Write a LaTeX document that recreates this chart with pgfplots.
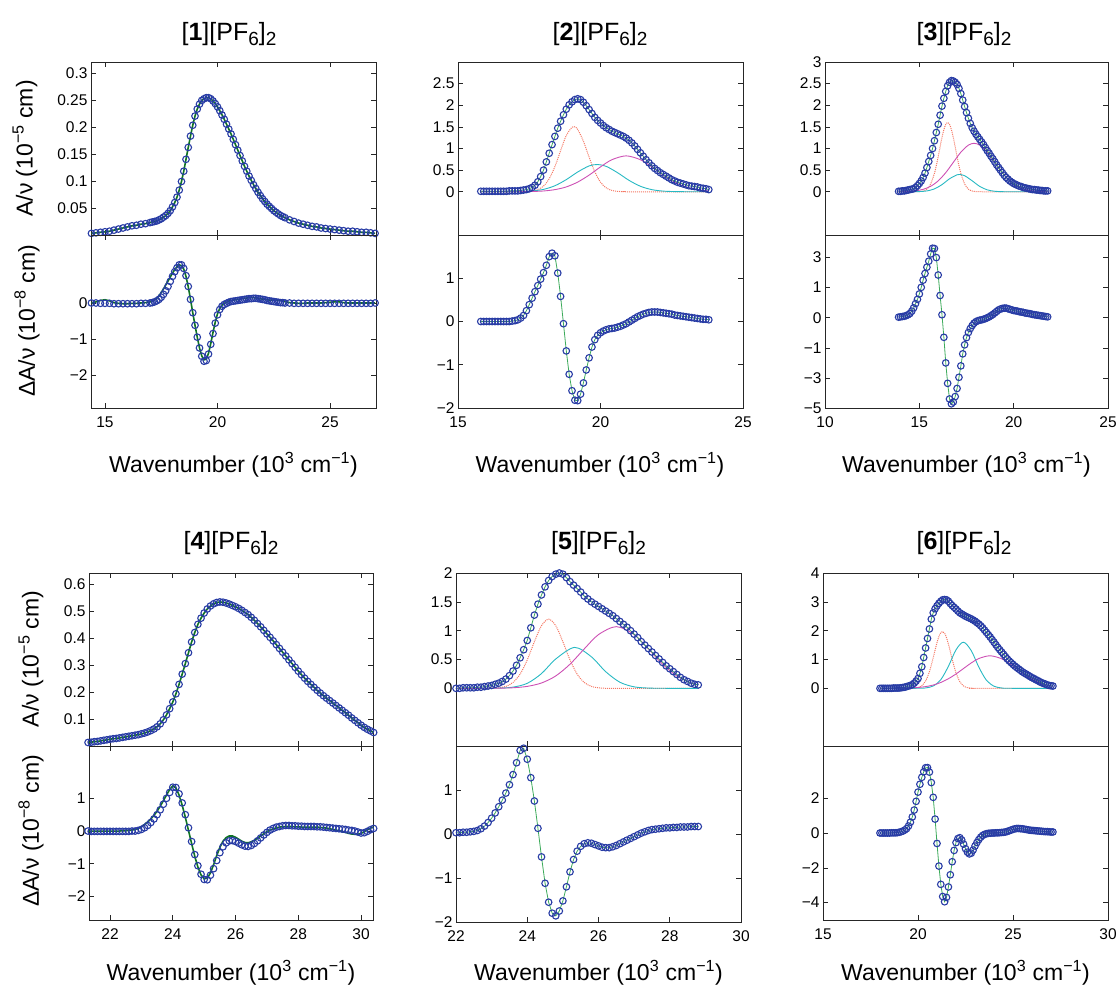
\documentclass[border=0pt]{standalone}
\usepackage{pgfplots}
\usepackage{pgfplotstable}
\usepackage{fontspec}
\setmainfont{Liberation Sans}
\pgfplotsset{compat=1.18}

\definecolor{datc}{RGB}{40,60,165}
\definecolor{fitdk}{RGB}{15,115,35}
\definecolor{fitlt}{RGB}{60,170,90}
\definecolor{redc}{RGB}{245,120,100}
\definecolor{cyac}{RGB}{40,185,195}
\definecolor{magc}{RGB}{205,80,180}

\pgfplotsset{
  pan/.style={scale only axis, anchor=north west, width=285pt, height=173pt,
    clip=false, tick align=inside, major tick length=5pt,
    axis line style={line width=0.7pt, black!85},
    every tick/.style={black!85, line width=0.6pt},
    tick label style={font=\fontsize{15.5}{16}\selectfont},
    xticklabel style={yshift=-5pt}},
  notx/.style={xticklabel={\mbox{}}},
  dat/.style={only marks, mark=o, mark size=3.3pt, datc, mark options={line width=1.1pt}},
  fitd/.style={no marks, fitdk, line width=1.6pt},
  fitl/.style={no marks, fitlt, line width=0.8pt},
  cr/.style={no marks, redc, densely dotted, line width=1pt, smooth},
  cc/.style={no marks, cyac, line width=0.9pt, smooth},
  cm/.style={no marks, magc, line width=0.9pt, smooth},
}

% [1][PF6]2 : x, A/nu, dA/nu, fit of dA/nu
\pgfplotstableread{
x a d f
14.4 0.003 0.00 0.00
14.6 0.004 0.00 0.03
14.8 0.005 -0.01 0.07
15.0 0.006 -0.01 0.09
15.2 0.007 -0.01 0.06
15.4 0.009 -0.02 0.01
15.6 0.011 -0.02 -0.01
15.8 0.013 -0.02 -0.02
16.0 0.015 -0.02 -0.02
16.2 0.017 -0.02 -0.01
16.4 0.018 -0.02 -0.01
16.6 0.020 -0.01 0.00
16.8 0.021 -0.01 0.01
17.0 0.023 0.00 0.03
17.1 0.024 0.01 0.05
17.2 0.025 0.03 0.08
17.3 0.026 0.06 0.13
17.4 0.028 0.10 0.20
17.5 0.030 0.16 0.29
17.6 0.033 0.24 0.39
17.7 0.036 0.34 0.50
17.8 0.040 0.46 0.61
17.9 0.045 0.60 0.72
18.0 0.052 0.74 0.83
18.1 0.060 0.87 0.93
18.2 0.070 0.98 1.01
18.3 0.083 1.06 1.06
18.4 0.099 1.06 1.04
18.5 0.118 0.96 0.94
18.6 0.140 0.76 0.74
18.7 0.162 0.46 0.45
18.8 0.183 0.10 0.10
18.9 0.203 -0.27 -0.27
19.0 0.220 -0.62 -0.62
19.1 0.233 -0.95 -0.95
19.2 0.242 -1.25 -1.25
19.3 0.249 -1.48 -1.47
19.4 0.252 -1.62 -1.58
19.5 0.254 -1.60 -1.56
19.6 0.254 -1.42 -1.40
19.7 0.252 -1.15 -1.13
19.8 0.248 -0.85 -0.82
19.9 0.243 -0.56 -0.53
20.0 0.237 -0.33 -0.30
20.1 0.230 -0.18 -0.15
20.2 0.222 -0.09 -0.06
20.3 0.214 -0.04 -0.01
20.4 0.205 -0.01 0.02
20.5 0.196 0.02 0.05
20.6 0.187 0.04 0.07
20.7 0.177 0.05 0.08
20.8 0.167 0.06 0.09
20.9 0.157 0.07 0.10
21.0 0.147 0.08 0.11
21.1 0.137 0.09 0.12
21.2 0.127 0.10 0.13
21.3 0.118 0.11 0.14
21.4 0.109 0.12 0.15
21.5 0.101 0.12 0.15
21.6 0.093 0.13 0.15
21.7 0.086 0.13 0.14
21.8 0.079 0.12 0.13
21.9 0.073 0.11 0.12
22.0 0.067 0.10 0.11
22.1 0.062 0.09 0.10
22.2 0.057 0.07 0.09
22.3 0.053 0.06 0.08
22.4 0.049 0.05 0.08
22.5 0.045 0.04 0.08
22.6 0.042 0.03 0.08
22.7 0.039 0.02 0.08
22.8 0.036 0.01 0.08
22.9 0.034 0.01 0.06
23.0 0.032 0.00 0.04
23.2 0.028 0.00 0.01
23.4 0.025 -0.01 0.00
23.6 0.022 -0.01 -0.01
23.8 0.020 -0.01 -0.01
24.0 0.018 -0.01 0.00
24.2 0.016 -0.01 0.00
24.4 0.015 -0.01 0.00
24.6 0.013 -0.01 0.00
24.8 0.012 -0.01 0.01
25.0 0.011 -0.01 0.02
25.2 0.010 -0.01 0.03
25.4 0.009 -0.01 0.03
25.6 0.008 -0.01 0.01
25.8 0.007 -0.01 0.00
26.0 0.007 -0.01 0.00
26.2 0.006 -0.01 0.00
26.4 0.005 -0.01 0.00
26.6 0.005 -0.01 0.00
26.8 0.004 -0.01 0.00
27.0 0.003 0.00 0.00
}\tOne

% [2][PF6]2
\pgfplotstableread{
x a d
15.8 0.01 0.00
15.9 0.01 0.00
16.0 0.01 0.00
16.1 0.01 0.00
16.2 0.01 0.00
16.3 0.01 0.00
16.4 0.01 0.00
16.5 0.01 0.00
16.6 0.01 0.00
16.7 0.01 0.00
16.8 0.02 0.00
16.9 0.02 0.01
17.0 0.02 0.02
17.1 0.02 0.04
17.2 0.03 0.08
17.3 0.04 0.14
17.4 0.05 0.25
17.5 0.07 0.39
17.6 0.10 0.54
17.7 0.15 0.69
17.8 0.23 0.83
17.9 0.35 0.98
18.0 0.50 1.13
18.1 0.69 1.30
18.2 0.89 1.50
18.3 1.09 1.58
18.4 1.28 1.52
18.5 1.47 1.12
18.6 1.63 0.58
18.7 1.78 -0.05
18.8 1.91 -0.68
18.9 2.01 -1.22
19.0 2.08 -1.60
19.1 2.13 -1.82
19.2 2.15 -1.83
19.3 2.13 -1.68
19.4 2.07 -1.42
19.5 1.99 -1.12
19.6 1.90 -0.84
19.7 1.81 -0.59
19.8 1.72 -0.42
19.9 1.65 -0.32
20.0 1.59 -0.26
20.1 1.53 -0.22
20.2 1.48 -0.19
20.3 1.44 -0.17
20.4 1.40 -0.16
20.5 1.37 -0.15
20.6 1.34 -0.13
20.7 1.31 -0.11
20.8 1.28 -0.08
20.9 1.24 -0.05
21.0 1.19 -0.01
21.1 1.13 0.03
21.2 1.06 0.07
21.3 0.98 0.11
21.4 0.90 0.14
21.5 0.82 0.17
21.6 0.74 0.19
21.7 0.67 0.21
21.8 0.60 0.22
21.9 0.54 0.22
22.0 0.49 0.22
22.1 0.44 0.21
22.2 0.40 0.20
22.3 0.36 0.19
22.4 0.32 0.18
22.5 0.28 0.17
22.6 0.25 0.15
22.7 0.22 0.14
22.8 0.20 0.13
22.9 0.18 0.12
23.0 0.16 0.11
23.1 0.14 0.10
23.2 0.13 0.09
23.3 0.12 0.08
23.4 0.11 0.07
23.5 0.09 0.06
23.6 0.08 0.05
23.7 0.07 0.05
23.8 0.05 0.04
}\tTwo

% [3][PF6]2 (d in tick-position units: 2,1,0,-1,-2,-3 carry labels 3,1,0,-1,-3,-5)
\pgfplotstableread{
x a d
13.9 0.01 0.02
14.0 0.01 0.03
14.1 0.02 0.04
14.2 0.02 0.05
14.3 0.03 0.07
14.4 0.04 0.10
14.5 0.05 0.14
14.6 0.06 0.22
14.7 0.07 0.33
14.8 0.10 0.47
14.9 0.14 0.61
15.0 0.19 0.79
15.1 0.25 1.01
15.2 0.33 1.25
15.3 0.43 1.47
15.4 0.56 1.68
15.5 0.70 1.88
15.6 0.84 2.12
15.7 1.00 2.31
15.8 1.18 2.30
15.9 1.37 2.00
16.0 1.56 1.42
16.1 1.77 0.74
16.2 1.98 0.10
16.3 2.16 -0.65
16.4 2.32 -1.50
16.5 2.45 -2.18
16.6 2.53 -2.70
16.7 2.57 -2.86
16.8 2.56 -2.80
16.9 2.53 -2.62
17.0 2.48 -2.35
17.1 2.39 -1.98
17.2 2.27 -1.60
17.3 2.12 -1.20
17.4 1.97 -0.90
17.5 1.83 -0.66
17.6 1.70 -0.49
17.7 1.58 -0.36
17.8 1.48 -0.26
17.9 1.40 -0.18
18.0 1.33 -0.13
18.1 1.27 -0.10
18.2 1.21 -0.08
18.3 1.15 -0.07
18.4 1.09 -0.05
18.5 1.02 -0.03
18.6 0.95 0.00
18.7 0.89 0.03
18.8 0.82 0.07
18.9 0.76 0.11
19.0 0.69 0.16
19.1 0.62 0.21
19.2 0.56 0.26
19.3 0.50 0.29
19.4 0.44 0.31
19.5 0.38 0.32
19.6 0.33 0.32
19.7 0.29 0.30
19.8 0.25 0.28
19.9 0.22 0.26
20.0 0.19 0.24
20.1 0.17 0.23
20.2 0.15 0.22
20.3 0.13 0.20
20.4 0.12 0.19
20.5 0.10 0.18
20.6 0.09 0.16
20.7 0.08 0.15
20.8 0.07 0.14
20.9 0.06 0.13
21.0 0.05 0.11
21.1 0.05 0.10
21.2 0.04 0.09
21.3 0.04 0.08
21.4 0.03 0.07
21.5 0.03 0.06
21.6 0.02 0.05
21.7 0.02 0.04
21.8 0.02 0.03
}\tThree

% [4][PF6]2 : x, A/nu, dA/nu, fit of dA/nu
\pgfplotstableread{
x a d f
21.3 0.013 0.00 0.00
21.4 0.014 -0.01 0.00
21.5 0.016 -0.01 0.00
21.6 0.017 -0.01 0.00
21.7 0.019 -0.01 0.00
21.8 0.021 -0.01 0.00
21.9 0.023 -0.01 0.00
22.0 0.025 -0.01 0.00
22.1 0.027 -0.01 0.00
22.2 0.028 -0.01 0.00
22.3 0.030 -0.01 0.00
22.4 0.032 -0.01 0.01
22.5 0.034 -0.01 0.01
22.6 0.036 -0.01 0.02
22.7 0.038 0.00 0.03
22.8 0.040 0.00 0.05
22.9 0.042 0.02 0.08
23.0 0.045 0.05 0.13
23.1 0.048 0.10 0.20
23.2 0.052 0.17 0.28
23.3 0.057 0.26 0.37
23.4 0.063 0.37 0.48
23.5 0.071 0.50 0.61
23.6 0.082 0.65 0.76
23.7 0.097 0.82 0.93
23.8 0.115 1.00 1.10
23.9 0.138 1.18 1.27
24.0 0.163 1.34 1.38
24.1 0.193 1.33 1.32
24.2 0.228 1.14 1.10
24.3 0.266 0.86 0.79
24.4 0.305 0.50 0.42
24.5 0.345 0.10 0.02
24.6 0.385 -0.32 -0.38
24.7 0.420 -0.72 -0.77
24.8 0.450 -1.06 -1.10
24.9 0.473 -1.32 -1.34
25.0 0.492 -1.48 -1.46
25.1 0.507 -1.49 -1.44
25.2 0.518 -1.35 -1.28
25.3 0.526 -1.15 -1.03
25.4 0.531 -0.90 -0.75
25.5 0.533 -0.66 -0.50
25.6 0.532 -0.48 -0.31
25.7 0.529 -0.36 -0.20
25.8 0.525 -0.30 -0.15
25.9 0.520 -0.29 -0.15
26.0 0.515 -0.32 -0.19
26.1 0.509 -0.37 -0.25
26.2 0.502 -0.42 -0.31
26.3 0.494 -0.46 -0.35
26.4 0.486 -0.47 -0.36
26.5 0.476 -0.44 -0.33
26.6 0.465 -0.38 -0.28
26.7 0.453 -0.30 -0.22
26.8 0.441 -0.21 -0.15
26.9 0.428 -0.12 -0.08
27.0 0.415 -0.04 -0.02
27.1 0.402 0.03 0.03
27.2 0.389 0.08 0.07
27.3 0.375 0.12 0.10
27.4 0.361 0.14 0.12
27.5 0.347 0.16 0.13
27.6 0.333 0.17 0.14
27.7 0.319 0.17 0.14
27.8 0.305 0.16 0.14
27.9 0.291 0.16 0.13
28.0 0.277 0.15 0.13
28.1 0.264 0.15 0.12
28.2 0.251 0.14 0.12
28.3 0.239 0.14 0.12
28.4 0.228 0.14 0.12
28.5 0.217 0.14 0.12
28.6 0.206 0.13 0.12
28.7 0.196 0.13 0.11
28.8 0.186 0.12 0.10
28.9 0.177 0.11 0.09
29.0 0.168 0.10 0.07
29.1 0.159 0.09 0.05
29.2 0.150 0.08 0.03
29.3 0.141 0.07 0.01
29.4 0.132 0.06 -0.02
29.5 0.123 0.05 -0.04
29.6 0.114 0.03 -0.07
29.7 0.104 0.02 -0.09
29.8 0.095 0.00 -0.10
29.9 0.086 -0.03 -0.10
30.0 0.077 -0.06 -0.07
30.1 0.069 -0.05 -0.02
30.2 0.062 -0.01 0.04
30.3 0.056 0.04 0.09
30.4 0.050 0.08 0.12
}\tFour

% [5][PF6]2
\pgfplotstableread{
x a d
22.0 0.00 0.03
22.1 0.00 0.03
22.2 0.01 0.04
22.3 0.01 0.04
22.4 0.01 0.05
22.5 0.01 0.06
22.6 0.02 0.08
22.7 0.02 0.12
22.8 0.03 0.18
22.9 0.04 0.26
23.0 0.05 0.36
23.1 0.07 0.48
23.2 0.09 0.62
23.3 0.12 0.77
23.4 0.16 0.93
23.5 0.22 1.12
23.6 0.30 1.35
23.7 0.40 1.62
23.8 0.53 1.90
23.9 0.67 1.95
24.0 0.83 1.70
24.1 1.05 1.28
24.2 1.27 0.75
24.3 1.46 0.13
24.4 1.62 -0.52
24.5 1.76 -1.12
24.6 1.87 -1.55
24.7 1.94 -1.80
24.8 1.98 -1.86
24.9 2.00 -1.75
25.0 1.98 -1.52
25.1 1.92 -1.20
25.2 1.85 -0.86
25.3 1.79 -0.58
25.4 1.73 -0.39
25.5 1.67 -0.28
25.6 1.60 -0.22
25.7 1.55 -0.20
25.8 1.50 -0.21
25.9 1.46 -0.24
26.0 1.42 -0.27
26.1 1.38 -0.30
26.2 1.34 -0.31
26.3 1.30 -0.31
26.4 1.26 -0.29
26.5 1.21 -0.26
26.6 1.16 -0.22
26.7 1.11 -0.18
26.8 1.06 -0.14
26.9 1.00 -0.10
27.0 0.94 -0.06
27.1 0.88 -0.02
27.2 0.81 0.02
27.3 0.75 0.05
27.4 0.69 0.08
27.5 0.63 0.10
27.6 0.57 0.11
27.7 0.51 0.12
27.8 0.45 0.13
27.9 0.39 0.14
28.0 0.34 0.14
28.1 0.29 0.15
28.2 0.24 0.15
28.3 0.19 0.16
28.4 0.15 0.16
28.5 0.12 0.16
28.6 0.09 0.17
28.7 0.07 0.17
28.8 0.06 0.17
}\tFive

% [6][PF6]2
\pgfplotstableread{
x a d
18.0 0.00 0.00
18.1 0.00 0.00
18.2 0.00 0.00
18.3 0.00 0.00
18.4 0.00 0.00
18.5 0.00 0.00
18.6 0.00 0.01
18.7 0.01 0.01
18.8 0.01 0.01
18.9 0.01 0.02
19.0 0.01 0.04
19.1 0.02 0.07
19.2 0.03 0.11
19.3 0.04 0.17
19.4 0.06 0.25
19.5 0.08 0.40
19.6 0.10 0.62
19.7 0.13 0.92
19.8 0.18 1.32
19.9 0.25 1.82
20.0 0.34 2.35
20.1 0.52 2.80
20.2 0.75 3.20
20.3 1.07 3.52
20.4 1.40 3.75
20.5 1.73 3.76
20.6 2.06 3.50
20.7 2.40 2.90
20.8 2.62 2.05
20.9 2.76 0.80
21.0 2.86 -0.60
21.1 2.95 -1.90
21.2 3.02 -2.95
21.3 3.07 -3.65
21.4 3.08 -3.95
21.5 3.07 -3.70
21.6 3.02 -3.10
21.7 2.94 -2.40
21.8 2.87 -1.65
21.9 2.81 -1.00
22.0 2.75 -0.55
22.1 2.68 -0.32
22.2 2.62 -0.27
22.3 2.58 -0.40
22.4 2.54 -0.64
22.5 2.50 -0.90
22.6 2.47 -1.10
22.7 2.44 -1.20
22.8 2.41 -1.16
22.9 2.37 -0.98
23.0 2.33 -0.75
23.1 2.28 -0.55
23.2 2.23 -0.38
23.3 2.17 -0.24
23.4 2.10 -0.14
23.5 2.02 -0.08
23.6 1.94 -0.04
23.7 1.86 -0.02
23.8 1.78 -0.01
23.9 1.69 0.00
24.0 1.60 0.00
24.1 1.51 0.01
24.2 1.42 0.01
24.3 1.34 0.02
24.4 1.26 0.03
24.5 1.18 0.04
24.6 1.10 0.06
24.7 1.02 0.09
24.8 0.95 0.13
24.9 0.89 0.17
25.0 0.83 0.21
25.1 0.77 0.24
25.2 0.72 0.26
25.3 0.67 0.26
25.4 0.62 0.25
25.5 0.57 0.24
25.6 0.53 0.22
25.7 0.49 0.20
25.8 0.45 0.18
25.9 0.41 0.16
26.0 0.37 0.15
26.1 0.34 0.14
26.2 0.30 0.13
26.3 0.27 0.12
26.4 0.23 0.11
26.5 0.20 0.10
26.6 0.17 0.09
26.7 0.15 0.08
26.8 0.12 0.08
26.9 0.10 0.07
27.0 0.09 0.06
27.1 0.08 0.06
}\tSix

\newcommand{\sub}[1]{\raisebox{-0.22em}{\fontsize{19}{19}\selectfont #1}}
\newcommand{\ttl}[1]{[\textbf{#1}][PF\sub{6}]\sub{2}}
\newcommand{\wn}{Wavenumber (10\textsuperscript{3} cm\textsuperscript{−1})}

\begin{document}
\begin{tikzpicture}
\useasboundingbox (0,0) rectangle (1119pt,-986pt);

\begin{scope}[every node/.style={font=\fontsize{25}{26}\selectfont}]
\node at (229pt,-34pt) {\ttl{1}};
\node at (600pt,-34pt) {\ttl{2}};
\node at (964pt,-34pt) {\ttl{3}};
\node at (231pt,-543pt) {\ttl{4}};
\node at (598.5pt,-543pt) {\ttl{5}};
\node at (964pt,-543pt) {\ttl{6}};
\end{scope}
\begin{scope}[every node/.style={font=\fontsize{23}{24}\selectfont}]
\node at (233.5pt,-465pt) {\wn};
\node at (600pt,-465pt) {\wn};
\node at (966.5pt,-465pt) {\wn};
\node at (231pt,-973pt) {\wn};
\node at (598.5pt,-973pt) {\wn};
\node at (965.5pt,-973pt) {\wn};
\node[rotate=90] at (25pt,-148.5pt) {A/ν (10\textsuperscript{−5} cm)};
\node[rotate=90] at (27pt,-321pt) {ΔA/ν (10\textsuperscript{−8} cm)};
\node[rotate=90] at (31pt,-659pt) {A/ν (10\textsuperscript{−5} cm)};
\node[rotate=90] at (31pt,-831pt) {ΔA/ν (10\textsuperscript{−8} cm)};
\end{scope}

% ---- panel 1
\begin{axis}[pan, notx, at={(91pt,-62pt)}, xmin=14.38, xmax=27.04, ymin=0, ymax=0.32,
  xtick={15,20,25},
  ytick={0.05,0.1,0.15,0.2,0.25,0.3}, yticklabels={0.05,0.1,0.15,0.2,0.25,0.3}]
\addplot[dat] table[x=x,y=a]{\tOne};
\addplot[fitd] table[x=x,y=a]{\tOne};
\end{axis}
\begin{axis}[pan, at={(91pt,-235pt)}, xmin=14.38, xmax=27.04, ymin=-2.92, ymax=1.89,
  xtick={15,20,25}, xticklabels={15,20,25},
  ytick={-2,-1,0}, yticklabels={−2,−1,0}]
\addplot[dat] table[x=x,y=d]{\tOne};
\addplot[fitd] table[x=x,y=f]{\tOne};
\end{axis}

% ---- panel 2
\begin{axis}[pan, notx, at={(458pt,-62pt)}, xmin=15, xmax=25, ymin=-1, ymax=3,
  xtick={15,20,25},
  ytick={0,0.5,1,1.5,2,2.5}, yticklabels={0,0.5,1,1.5,2,2.5}]
\addplot[cr] coordinates {(15.8,0) (17.0,0) (17.4,0.005) (17.6,0.015) (17.8,0.048) (18.0,0.13) (18.2,0.30) (18.4,0.58) (18.6,0.95) (18.8,1.30) (19.0,1.49) (19.1,1.50) (19.2,1.44) (19.4,1.17) (19.6,0.80) (19.8,0.46) (20.0,0.22) (20.2,0.09) (20.4,0.03) (20.6,0.009) (20.8,0.002) (21.0,0) (23.8,0)};
\addplot[cc] coordinates {(15.8,0) (16.8,0.001) (17.2,0.004) (17.6,0.017) (18.0,0.055) (18.4,0.139) (18.8,0.281) (19.2,0.457) (19.6,0.597) (19.9,0.63) (20.2,0.587) (20.6,0.44) (21.0,0.264) (21.4,0.127) (21.8,0.049) (22.2,0.015) (22.6,0.004) (23.0,0.001) (23.8,0)};
\addplot[cm] coordinates {(15.8,0) (16.8,0) (17.2,0.002) (17.6,0.006) (18.0,0.018) (18.4,0.049) (18.8,0.112) (19.2,0.224) (19.6,0.385) (20.0,0.575) (20.4,0.741) (20.9,0.83) (21.4,0.741) (21.8,0.575) (22.2,0.385) (22.6,0.224) (23.0,0.112) (23.4,0.049) (23.8,0.018)};
\addplot[dat] table[x=x,y=a]{\tTwo};
\addplot[fitl] table[x=x,y=a]{\tTwo};
\end{axis}
\begin{axis}[pan, at={(458pt,-235pt)}, xmin=15, xmax=25, ymin=-2, ymax=2,
  xtick={15,20,25}, xticklabels={15,20,25},
  ytick={-2,-1,0,1}, yticklabels={−2,−1,0,1}]
\addplot[dat] table[x=x,y=d]{\tTwo};
\addplot[fitl] table[x=x,y=d]{\tTwo};
\end{axis}

% ---- panel 3
\begin{axis}[pan, notx, at={(825pt,-62pt)}, width=283pt, xmin=10, xmax=25, ymin=-1, ymax=3,
  xtick={10,15,20,25},
  ytick={0,0.5,1,1.5,2,2.5,3}, yticklabels={0,0.5,1,1.5,2,2.5,3}]
\addplot[cr] coordinates {(13.9,0) (14.6,0) (15.0,0.004) (15.2,0.017) (15.4,0.061) (15.6,0.179) (15.8,0.426) (15.9,0.605) (16.0,0.814) (16.1,1.038) (16.2,1.255) (16.3,1.436) (16.4,1.557) (16.5,1.6) (16.6,1.557) (16.7,1.436) (16.8,1.255) (16.9,1.038) (17.0,0.814) (17.1,0.605) (17.2,0.426) (17.4,0.179) (17.6,0.061) (17.8,0.017) (18.0,0.004) (18.4,0) (21.8,0)};
\addplot[cc] coordinates {(13.9,0) (14.6,0.001) (15.0,0.004) (15.4,0.019) (15.8,0.066) (16.2,0.165) (16.6,0.300) (17.0,0.393) (17.13,0.4) (17.4,0.371) (17.8,0.253) (18.2,0.124) (18.6,0.044) (19.0,0.011) (19.4,0.002) (19.8,0) (21.8,0)};
\addplot[cm] coordinates {(13.9,0.001) (14.4,0.007) (14.8,0.021) (15.2,0.056) (15.6,0.126) (16.0,0.252) (16.4,0.442) (16.8,0.679) (17.2,0.915) (17.6,1.078) (17.9,1.12) (18.2,1.078) (18.6,0.915) (19.0,0.679) (19.4,0.442) (19.8,0.252) (20.2,0.126) (20.6,0.056) (21.0,0.021) (21.4,0.007) (21.8,0.002)};
\addplot[dat] table[x=x,y=a]{\tThree};
\addplot[fitl] table[x=x,y=a]{\tThree};
\end{axis}
\begin{axis}[pan, at={(825pt,-235pt)}, width=283pt, xmin=10, xmax=25, ymin=-3, ymax=2.75,
  xtick={10,15,20,25}, xticklabels={10,15,20,25},
  ytick={-3,-2,-1,0,1,2}, yticklabels={−5,−3,−1,0,1,3}]
\addplot[dat] table[x=x,y=d]{\tThree};
\addplot[fitl] table[x=x,y=d]{\tThree};
\end{axis}

% ---- panel 4
\begin{axis}[pan, notx, at={(89pt,-573pt)}, width=284pt, xmin=21.33, xmax=30.38, ymin=0, ymax=0.64,
  xtick={22,24,26,28,30},
  ytick={0.1,0.2,0.3,0.4,0.5,0.6}, yticklabels={0.1,0.2,0.3,0.4,0.5,0.6}]
\addplot[dat] table[x=x,y=a]{\tFour};
\addplot[fitd] table[x=x,y=a]{\tFour};
\end{axis}
\begin{axis}[pan, at={(89pt,-746pt)}, width=284pt, height=174pt, xmin=21.33, xmax=30.38, ymin=-2.72, ymax=2.6,
  xtick={22,24,26,28,30}, xticklabels={22,24,26,28,30},
  ytick={-2,-1,0,1}, yticklabels={−2,−1,0,1}]
\addplot[dat] table[x=x,y=d]{\tFour};
\addplot[fitd] table[x=x,y=f]{\tFour};
\end{axis}

% ---- panel 5
\begin{axis}[pan, notx, at={(456pt,-573pt)}, xmin=22, xmax=30, ymin=-1, ymax=2,
  xtick={22,24,26,28,30},
  ytick={0,0.5,1,1.5,2}, yticklabels={0,0.5,1,1.5,2}]
\addplot[cr] coordinates {(22.0,0) (23.0,0.002) (23.2,0.009) (23.4,0.034) (23.6,0.102) (23.8,0.247) (24.0,0.493) (24.2,0.808) (24.4,1.087) (24.6,1.2) (24.8,1.087) (25.0,0.808) (25.2,0.493) (25.4,0.247) (25.6,0.102) (25.8,0.034) (26.0,0.009) (26.4,0) (28.8,0)};
\addplot[cc] coordinates {(22.0,0) (22.8,0) (23.2,0.003) (23.6,0.021) (24.0,0.087) (24.4,0.256) (24.8,0.509) (25.33,0.71) (25.8,0.547) (26.2,0.29) (26.6,0.106) (27.0,0.026) (27.4,0.005) (27.8,0.001) (28.8,0)};
\addplot[cm] coordinates {(22.0,0) (22.8,0.001) (23.2,0.003) (23.6,0.010) (24.0,0.034) (24.4,0.093) (24.8,0.215) (25.2,0.419) (25.6,0.684) (26.0,0.932) (26.5,1.07) (27.0,0.932) (27.4,0.684) (27.8,0.419) (28.2,0.215) (28.6,0.093) (28.8,0.06)};
\addplot[dat] table[x=x,y=a]{\tFive};
\addplot[fitl] table[x=x,y=a]{\tFive};
\end{axis}
\begin{axis}[pan, at={(456pt,-746pt)}, height=176pt, xmin=22, xmax=30, ymin=-2, ymax=2,
  xtick={22,24,26,28,30}, xticklabels={22,24,26,28,30},
  ytick={-2,-1,0,1}, yticklabels={−2,−1,0,1}]
\addplot[dat] table[x=x,y=d]{\tFive};
\addplot[fitl] table[x=x,y=d]{\tFive};
\end{axis}

% ---- panel 6
\begin{axis}[pan, notx, at={(823pt,-573pt)}, xmin=15, xmax=30, ymin=-2, ymax=4,
  xtick={15,20,25,30},
  ytick={0,1,2,3,4}, yticklabels={0,1,2,3,4}]
\addplot[cr] coordinates {(18.0,0) (19.6,0) (19.8,0.006) (20.0,0.027) (20.2,0.091) (20.4,0.256) (20.6,0.575) (20.8,1.06) (20.9,1.33) (21.0,1.586) (21.1,1.795) (21.2,1.929) (21.29,1.97) (21.4,1.909) (21.5,1.757) (21.6,1.537) (21.7,1.276) (21.8,1.006) (22.0,0.537) (22.2,0.232) (22.4,0.082) (22.6,0.023) (22.8,0.005) (23.0,0.001) (27.1,0)};
\addplot[cc] coordinates {(18.0,0) (20.0,0.002) (20.4,0.015) (20.8,0.080) (21.2,0.300) (21.6,0.765) (22.0,1.336) (22.39,1.6) (22.8,1.312) (23.2,0.736) (23.6,0.283) (24.0,0.074) (24.4,0.013) (24.8,0.002) (27.1,0)};
\addplot[cm] coordinates {(18.0,0) (19.0,0.003) (19.6,0.013) (20.0,0.029) (20.4,0.060) (20.8,0.114) (21.2,0.204) (21.6,0.334) (22.0,0.498) (22.4,0.690) (22.8,0.880) (23.2,1.034) (23.79,1.13) (24.4,1.027) (24.8,0.871) (25.2,0.681) (25.6,0.490) (26.0,0.325) (26.4,0.199) (26.8,0.112) (27.1,0.070)};
\addplot[dat] table[x=x,y=a]{\tSix};
\addplot[fitl] table[x=x,y=a]{\tSix};
\end{axis}
\begin{axis}[pan, at={(823pt,-746pt)}, height=174pt, xmin=15, xmax=30, ymin=-5, ymax=5,
  xtick={15,20,25,30}, xticklabels={15,20,25,30},
  ytick={-4,-2,0,2}, yticklabels={−4,−2,0,2}]
\addplot[dat] table[x=x,y=d]{\tSix};
\addplot[fitl] table[x=x,y=d]{\tSix};
\end{axis}
\end{tikzpicture}
\end{document}
